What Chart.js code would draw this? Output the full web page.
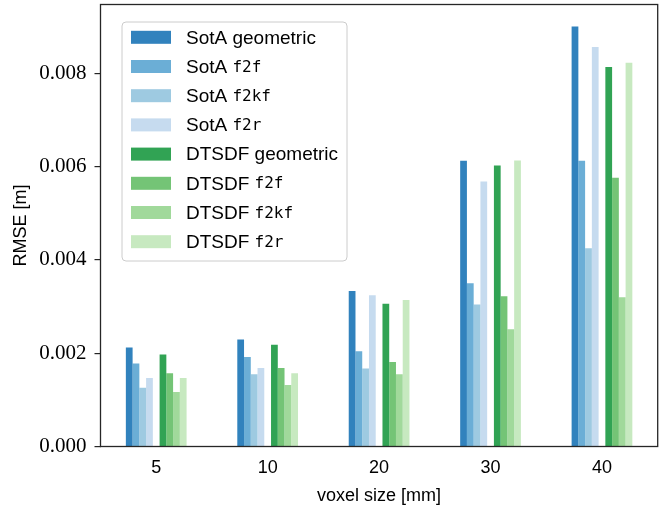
<!DOCTYPE html>
<html>
<head>
<meta charset="utf-8">
<script src="https://cdn.jsdelivr.net/npm/chart.js@4"></script>
<style>
  body { margin: 0; background: #fff; }
</style>
</head>
<body>
<canvas id="myChart" width="672" height="508"></canvas>
<script>
// voxel sizes on the x axis
const categories = ['5', '10', '20', '30', '40'];
const seriesNames = [
  'SotA geometric', 'SotA f2f', 'SotA f2kf', 'SotA f2r',
  'DTSDF geometric', 'DTSDF f2f', 'DTSDF f2kf', 'DTSDF f2r'
];
const seriesColors = [
  '#3182bd', '#6baed6', '#9ecae1', '#c6dbef',
  '#31a354', '#74c476', '#a1d99b', '#c7e9c0'
];

// RMSE [m] per voxel size
const sotaGeometric  = [0.00212, 0.00229, 0.00333, 0.00612, 0.00900];
const sotaF2f        = [0.00178, 0.00192, 0.00204, 0.00350, 0.00612];
const sotaF2kf       = [0.00126, 0.00155, 0.00167, 0.00304, 0.00425];
const sotaF2r        = [0.00147, 0.00168, 0.00324, 0.00568, 0.00856];
const dtsdfGeometric = [0.00197, 0.00218, 0.00306, 0.00602, 0.00813];
const dtsdfF2f       = [0.00157, 0.00168, 0.00181, 0.00322, 0.00576];
const dtsdfF2kf      = [0.00117, 0.00132, 0.00155, 0.00251, 0.00320];
const dtsdfF2r       = [0.00147, 0.00157, 0.00314, 0.00613, 0.00822];

const yTicks = [0, 0.002, 0.004, 0.006, 0.008];
const yMax = 0.00947;

const seriesData = [sotaGeometric, sotaF2f, sotaF2kf, sotaF2r,
                    dtsdfGeometric, dtsdfF2f, dtsdfF2kf, dtsdfF2r];

let datasets = [];
for (let i = 0; i < seriesData.length; i++) {
  if (i === 4) {
    // empty slot between the SotA and DTSDF bars
    datasets.push({ label: '', data: categories.map(() => null) });
  }
  datasets.push({
    label: seriesNames[i],
    data: seriesData[i],
    backgroundColor: seriesColors[i],
    borderWidth: 0
  });
}

// frame around the plot area (matplotlib spines)
const frame = {
  id: 'frame',
  afterDatasetsDraw(chart) {
    const a = chart.chartArea;
    const c = chart.ctx;
    c.save();
    c.strokeStyle = '#262626';
    c.lineWidth = 1.3;
    c.strokeRect(a.left, a.top, a.right - a.left, a.bottom - a.top);
    c.restore();
  }
};

// legend with a sans prefix and typewriter suffix like the original
const boxLegend = {
  id: 'boxLegend',
  afterDraw(chart) {
    const a = chart.chartArea;
    const c = chart.ctx;
    const x0 = a.left + 21.5, y0 = a.top + 17.5, w = 225, h = 239;
    c.save();
    c.beginPath();
    c.roundRect(x0, y0, w, h, 4);
    c.fillStyle = 'rgba(255,255,255,0.8)';
    c.fill();
    c.strokeStyle = '#cccccc';
    c.lineWidth = 1;
    c.stroke();
    const sans = '19px "Liberation Sans", Arial, sans-serif';
    const mono = '16px "DejaVu Sans Mono", monospace';
    c.textBaseline = 'middle';
    for (let i = 0; i < seriesNames.length; i++) {
      const cy = y0 + 15.3 + i * 29.2;
      c.fillStyle = seriesColors[i];
      c.fillRect(x0 + 9, cy - 6.5, 40, 13);
      const parts = seriesNames[i].split(' ');
      const prefix = parts[0] + ' ';
      const suffix = parts[1];
      c.fillStyle = '#000';
      c.font = sans;
      c.fillText(prefix, x0 + 64, cy + 1);
      const pw = c.measureText(prefix).width;
      c.font = suffix === 'geometric' ? sans : mono;
      c.fillText(suffix, x0 + 64 + pw, cy + 1);
    }
    c.restore();
  }
};

const ctx = document.getElementById('myChart');
new Chart(ctx, {
  type: 'bar',
  data: { labels: categories, datasets: datasets },
  options: {
    responsive: false,
    animation: false,
    layout: { padding: { top: 4.5, right: 14.3, left: 0, bottom: 0 } },
    datasets: { bar: { categoryPercentage: 0.545, barPercentage: 1.0 } },
    plugins: {
      legend: { display: false },
      tooltip: { enabled: false }
    },
    scales: {
      x: {
        grid: { display: false, drawTicks: false, tickLength: 0 },
        border: { display: false },
        ticks: {
          color: '#000',
          padding: 11,
          font: { family: '"Liberation Sans", Arial, sans-serif', size: 18 }
        },
        title: {
          display: true,
          text: 'voxel size [mm]',
          color: '#000',
          padding: { top: 0, bottom: 1 },
          font: { family: '"Liberation Sans", Arial, sans-serif', size: 18 }
        },
        afterFit(scale) {
          scale.height = 61.5;
          scale.paddingLeft = 0;
          scale.paddingRight = 0;
        }
      },
      y: {
        min: 0,
        max: yMax,
        afterBuildTicks(scale) { scale.ticks = yTicks.map(v => ({ value: v })); },
        grid: {
          drawOnChartArea: false,
          drawTicks: true,
          tickLength: 6,
          color: '#262626',
          lineWidth: 1.2
        },
        border: { display: false },
        ticks: {
          color: '#000',
          padding: 8,
          callback: v => v.toFixed(3),
          font: { family: '"Liberation Serif", "DejaVu Serif", serif', size: 21 }
        },
        title: {
          display: true,
          text: 'RMSE [m]',
          color: '#000',
          padding: { top: 10, bottom: 0 },
          font: { family: '"Liberation Sans", Arial, sans-serif', size: 18 }
        },
        afterFit(scale) {
          scale.width = 100.5;
          scale.paddingTop = 0;
          scale.paddingBottom = 0;
        }
      }
    }
  },
  plugins: [frame, boxLegend]
});
</script>
</body>
</html>
